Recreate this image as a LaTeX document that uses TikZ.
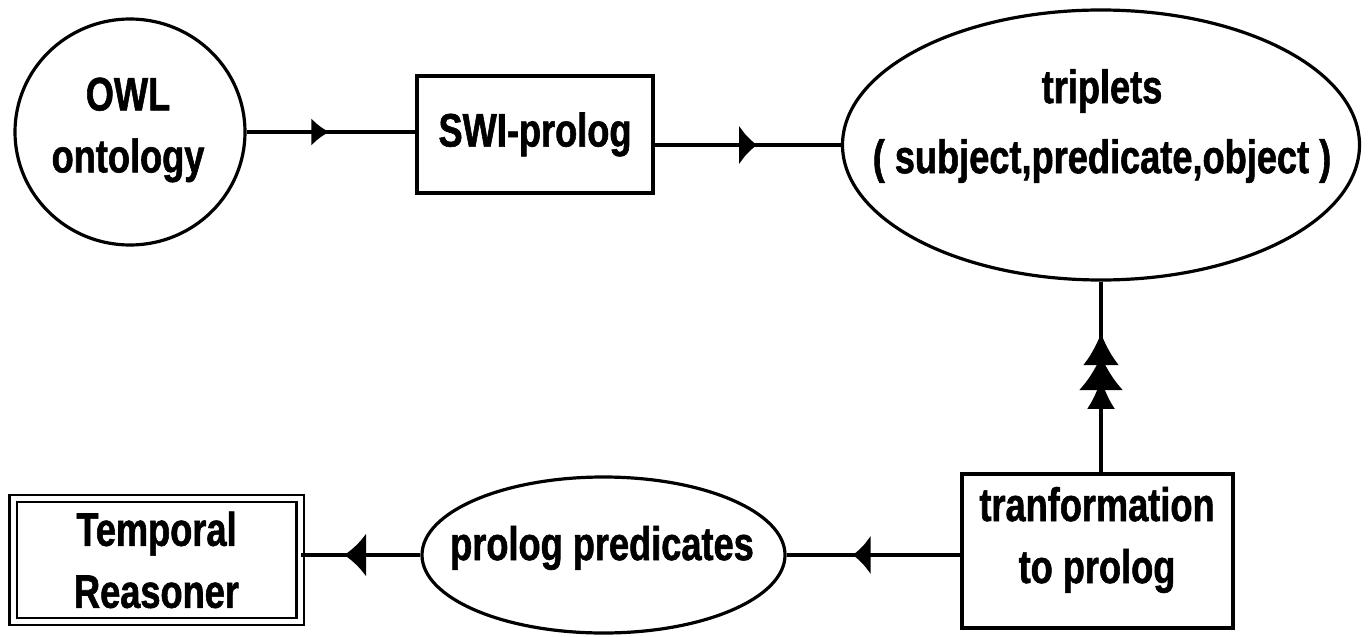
\documentclass[tikz,border=0pt]{standalone}
\usepackage{fontspec}
\setmainfont{Liberation Sans}[FakeStretch=0.77,BoldFeatures={FakeBold=1.2}]
\usetikzlibrary{arrows.meta,decorations.markings,shapes.geometric}
\begin{document}
\begin{tikzpicture}[x=0.5pt,y=-0.5pt,line width=1.6pt,
  every node/.style={font=\fontsize{23.5}{31}\selectfont\bfseries,align=center},
  boxnode/.style={draw,rectangle,inner sep=0pt},
  ellnode/.style={draw,ellipse,inner sep=0pt},
  midtip/.style 2 args={postaction={decorate},
    decoration={markings,mark=at position #1 with {\arrow{Latex[#2]}}}}]
\useasboundingbox (0,0) rectangle (1368,636);
% nodes
\node[ellnode,minimum width=115pt,minimum height=113pt] (owl) at (130,132) {};
\node (owltext) at (128,130) {OWL\\ontology};
\node[boxnode,minimum width=118pt,minimum height=58.5pt] (swi) at (535,134.5) {SWI-prolog};
\node[ellnode,minimum width=258.5pt,minimum height=135pt] (trip) at (1101,145) {};
\node[font=\fontsize{23.5}{35}\selectfont\bfseries] (triptext) at (1102,126) {triplets\\( subject,predicate,object )};
\node[boxnode,minimum width=135.5pt,minimum height=77pt] (trans) at (1097.5,551) {};
\node (transtext) at (1097,540) {tranformation\\to prolog};
\node[ellnode,minimum width=181.5pt,minimum height=78pt] (pp) at (603.5,555) {};
\node (pptext) at (602,548) {prolog predicates};
\node[boxnode,double,double distance=2.5pt,line width=1.2pt,minimum width=143.5pt,minimum height=61.5pt] (temp) at (156.5,560) {Temporal\\Reasoner};
% connectors
\draw[midtip={0.49}{length=9pt,width=14pt}] (owl.east) -- (owl.east -| swi.west);
\draw[midtip={0.55}{length=9pt,width=20pt}] (swi.east |- trip.west) -- (trip.west);
\draw[postaction={decorate},decoration={markings,
    mark=at position 0.49 with {\arrow{Latex[length=15pt,width=14pt]}},
    mark=at position 0.61 with {\arrow{Latex[length=17pt,width=22pt]}},
    mark=at position 0.73 with {\arrow{Latex[length=16pt,width=18pt]}}}]
  (trip.south |- trans.north) -- (trip.south);
\draw[midtip={0.62}{length=9pt,width=20pt}] (trans.west |- pp.east) -- (pp.east);
\draw[midtip={0.64}{length=11pt,width=22pt}] (pp.west) -- (pp.west -| temp.east);
\end{tikzpicture}
\end{document}
